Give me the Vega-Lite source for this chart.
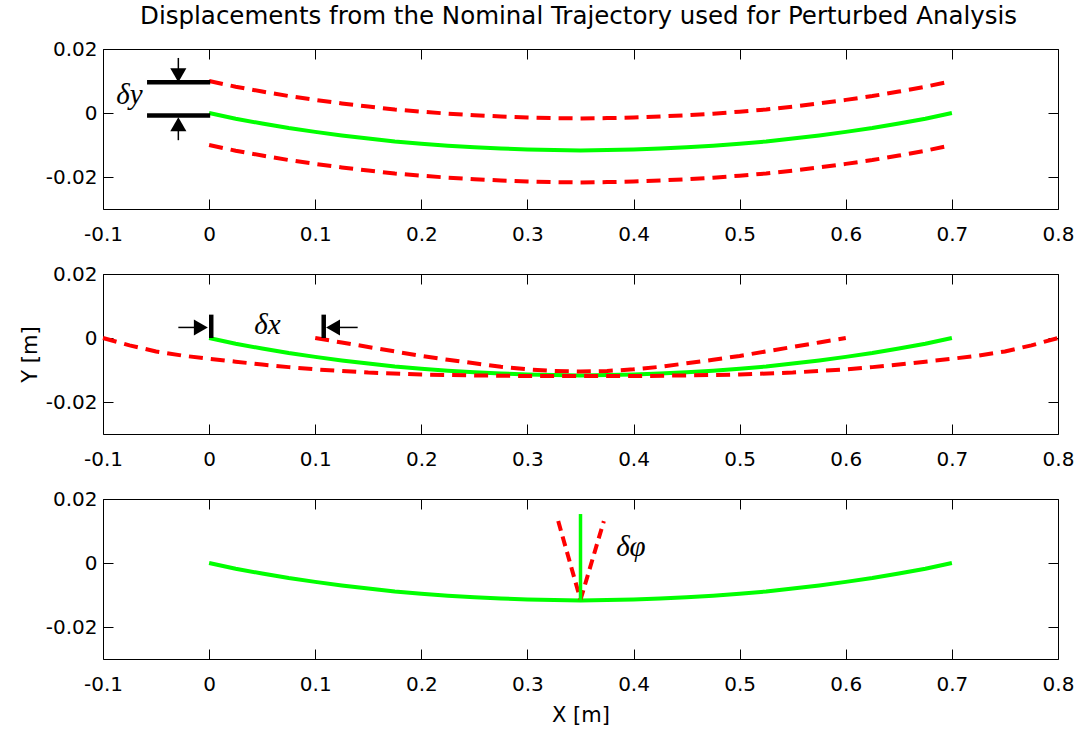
{
  "$schema": "https://vega.github.io/schema/vega-lite/v6.json",
  "padding": {"left": 18, "top": 4, "right": 5, "bottom": 5},
  "background": "white",
  "title": {"text": "Displacements from the Nominal Trajectory used for Perturbed Analysis", "font": "DejaVu Sans", "fontSize": 24.5, "fontWeight": "normal", "color": "#000", "anchor": "middle", "offset": 9, "dx": 32},
  "spacing": 65,
  "bounds": "flush",
  "datasets": {
    "nominal": [
      {"x": 0, "y": 0}, {"x": 0.025, "y": -0.0018}, {"x": 0.05, "y": -0.0033}, {"x": 0.075, "y": -0.0047}, {"x": 0.1, "y": -0.0059},
      {"x": 0.125, "y": -0.007}, {"x": 0.15, "y": -0.008}, {"x": 0.175, "y": -0.0089}, {"x": 0.2, "y": -0.0096}, {"x": 0.225, "y": -0.0102},
      {"x": 0.25, "y": -0.0107}, {"x": 0.275, "y": -0.0111}, {"x": 0.3, "y": -0.0114}, {"x": 0.325, "y": -0.0116}, {"x": 0.35, "y": -0.0117},
      {"x": 0.375, "y": -0.0116}, {"x": 0.4, "y": -0.0114}, {"x": 0.425, "y": -0.0111}, {"x": 0.45, "y": -0.0107}, {"x": 0.475, "y": -0.0102},
      {"x": 0.5, "y": -0.0096}, {"x": 0.525, "y": -0.0089}, {"x": 0.55, "y": -0.008}, {"x": 0.575, "y": -0.007}, {"x": 0.6, "y": -0.0059},
      {"x": 0.625, "y": -0.0047}, {"x": 0.65, "y": -0.0033}, {"x": 0.675, "y": -0.0018}, {"x": 0.7, "y": 0}
    ],
    "p1red": [
      {"series": "upper", "x": 0, "y": 0.01}, {"series": "upper", "x": 0.025, "y": 0.0082}, {"series": "upper", "x": 0.05, "y": 0.0067}, {"series": "upper", "x": 0.075, "y": 0.0053}, {"series": "upper", "x": 0.1, "y": 0.0041},
      {"series": "upper", "x": 0.125, "y": 0.003}, {"series": "upper", "x": 0.15, "y": 0.002}, {"series": "upper", "x": 0.175, "y": 0.0011}, {"series": "upper", "x": 0.2, "y": 0.0004}, {"series": "upper", "x": 0.225, "y": -0.0002},
      {"series": "upper", "x": 0.25, "y": -0.0007}, {"series": "upper", "x": 0.275, "y": -0.0011}, {"series": "upper", "x": 0.3, "y": -0.0014}, {"series": "upper", "x": 0.325, "y": -0.0016}, {"series": "upper", "x": 0.35, "y": -0.0017},
      {"series": "upper", "x": 0.375, "y": -0.0016}, {"series": "upper", "x": 0.4, "y": -0.0014}, {"series": "upper", "x": 0.425, "y": -0.0011}, {"series": "upper", "x": 0.45, "y": -0.0007}, {"series": "upper", "x": 0.475, "y": -0.0002},
      {"series": "upper", "x": 0.5, "y": 0.0004}, {"series": "upper", "x": 0.525, "y": 0.0011}, {"series": "upper", "x": 0.55, "y": 0.002}, {"series": "upper", "x": 0.575, "y": 0.003}, {"series": "upper", "x": 0.6, "y": 0.0041},
      {"series": "upper", "x": 0.625, "y": 0.0053}, {"series": "upper", "x": 0.65, "y": 0.0067}, {"series": "upper", "x": 0.675, "y": 0.0082}, {"series": "upper", "x": 0.7, "y": 0.01},
      {"series": "lower", "x": 0, "y": -0.01}, {"series": "lower", "x": 0.025, "y": -0.0118}, {"series": "lower", "x": 0.05, "y": -0.0133}, {"series": "lower", "x": 0.075, "y": -0.0147}, {"series": "lower", "x": 0.1, "y": -0.0159},
      {"series": "lower", "x": 0.125, "y": -0.017}, {"series": "lower", "x": 0.15, "y": -0.018}, {"series": "lower", "x": 0.175, "y": -0.0189}, {"series": "lower", "x": 0.2, "y": -0.0196}, {"series": "lower", "x": 0.225, "y": -0.0202},
      {"series": "lower", "x": 0.25, "y": -0.0207}, {"series": "lower", "x": 0.275, "y": -0.0211}, {"series": "lower", "x": 0.3, "y": -0.0214}, {"series": "lower", "x": 0.325, "y": -0.0216}, {"series": "lower", "x": 0.35, "y": -0.0217},
      {"series": "lower", "x": 0.375, "y": -0.0216}, {"series": "lower", "x": 0.4, "y": -0.0214}, {"series": "lower", "x": 0.425, "y": -0.0211}, {"series": "lower", "x": 0.45, "y": -0.0207}, {"series": "lower", "x": 0.475, "y": -0.0202},
      {"series": "lower", "x": 0.5, "y": -0.0196}, {"series": "lower", "x": 0.525, "y": -0.0189}, {"series": "lower", "x": 0.55, "y": -0.018}, {"series": "lower", "x": 0.575, "y": -0.017}, {"series": "lower", "x": 0.6, "y": -0.0159},
      {"series": "lower", "x": 0.625, "y": -0.0147}, {"series": "lower", "x": 0.65, "y": -0.0133}, {"series": "lower", "x": 0.675, "y": -0.0118}, {"series": "lower", "x": 0.7, "y": -0.01}
    ],
    "p2red": [
      {"series": "long", "x": -0.1, "y": 0}, {"series": "long", "x": -0.075, "y": -0.0023}, {"series": "long", "x": -0.05, "y": -0.0042}, {"series": "long", "x": -0.025, "y": -0.0055},
      {"series": "long", "x": 0, "y": -0.0065}, {"series": "long", "x": 0.025, "y": -0.0074}, {"series": "long", "x": 0.05, "y": -0.0083}, {"series": "long", "x": 0.075, "y": -0.0091},
      {"series": "long", "x": 0.1, "y": -0.0098}, {"series": "long", "x": 0.15, "y": -0.0108}, {"series": "long", "x": 0.2, "y": -0.0114}, {"series": "long", "x": 0.25, "y": -0.0117},
      {"series": "long", "x": 0.3, "y": -0.0119}, {"series": "long", "x": 0.35, "y": -0.0119}, {"series": "long", "x": 0.4, "y": -0.0119}, {"series": "long", "x": 0.45, "y": -0.0117},
      {"series": "long", "x": 0.5, "y": -0.0114}, {"series": "long", "x": 0.55, "y": -0.0108}, {"series": "long", "x": 0.6, "y": -0.0098}, {"series": "long", "x": 0.625, "y": -0.0091},
      {"series": "long", "x": 0.65, "y": -0.0083}, {"series": "long", "x": 0.675, "y": -0.0074}, {"series": "long", "x": 0.7, "y": -0.0065}, {"series": "long", "x": 0.725, "y": -0.0055},
      {"series": "long", "x": 0.75, "y": -0.0042}, {"series": "long", "x": 0.775, "y": -0.0023}, {"series": "long", "x": 0.8, "y": 0},
      {"series": "short", "x": 0.1, "y": 0}, {"series": "short", "x": 0.125, "y": -0.0014}, {"series": "short", "x": 0.15, "y": -0.0028}, {"series": "short", "x": 0.175, "y": -0.0042},
      {"series": "short", "x": 0.2, "y": -0.0056}, {"series": "short", "x": 0.225, "y": -0.0068}, {"series": "short", "x": 0.25, "y": -0.0079}, {"series": "short", "x": 0.275, "y": -0.009},
      {"series": "short", "x": 0.3, "y": -0.0098}, {"series": "short", "x": 0.325, "y": -0.0103}, {"series": "short", "x": 0.35, "y": -0.0105}, {"series": "short", "x": 0.375, "y": -0.0103},
      {"series": "short", "x": 0.4, "y": -0.0098}, {"series": "short", "x": 0.425, "y": -0.009}, {"series": "short", "x": 0.45, "y": -0.0079}, {"series": "short", "x": 0.475, "y": -0.0068},
      {"series": "short", "x": 0.5, "y": -0.0056}, {"series": "short", "x": 0.525, "y": -0.0042}, {"series": "short", "x": 0.55, "y": -0.0028}, {"series": "short", "x": 0.575, "y": -0.0014},
      {"series": "short", "x": 0.6, "y": 0}
    ],
    "p3red": [
      {"series": "left", "x": 0.329, "y": 0.0131}, {"series": "left", "x": 0.35, "y": -0.0115},
      {"series": "right", "x": 0.35, "y": -0.0115}, {"series": "right", "x": 0.372, "y": 0.0131}
    ],
    "p3vert": [{"x": 0.35, "y": -0.0117, "y2": 0.0153}],
    "p1bars": [{"x": -0.0585, "x2": 0.001, "y": 0.0096}, {"x": -0.0585, "x2": 0.001, "y": -0.0008}],
    "p1shafts": [{"x": -0.029, "y": 0.0172, "y2": 0.013}, {"x": -0.029, "y": -0.0048, "y2": -0.0085}],
    "p1heads": [{"x": -0.029, "y": 0.0118, "shape": "triangle-down"}, {"x": -0.029, "y": -0.0035, "shape": "triangle-up"}],
    "p2bars": [{"x": 0.002, "y": 0, "y2": 0.0073}, {"x": 0.108, "y": 0, "y2": 0.0073}],
    "p2shafts": [{"x": -0.029, "x2": -0.012, "y": 0.0033}, {"x": 0.121, "x2": 0.14, "y": 0.0033}],
    "p2heads": [{"x": -0.0078, "y": 0.0033, "shape": "triangle-right"}, {"x": 0.1168, "y": 0.0033, "shape": "triangle-left"}],
    "p1text": [{"x": -0.075, "y": 0.0028, "label": "δy"}],
    "p2text": [{"x": 0.055, "y": 0.0014, "label": "δx"}],
    "p3text": [{"x": 0.3975, "y": 0.0022, "label": "δφ"}]
  },
  "vconcat": [
    {
      "width": 955, "height": 160,
      "resolve": {"axis": {"x": "independent", "y": "independent"}},
      "layer": [
        {"data": {"name": "nominal"}, "mark": {"type": "line", "color": "#00ff00", "strokeWidth": 4},
         "encoding": {
           "x": {"field": "x", "type": "quantitative", "scale": {"domain": [-0.1, 0.8], "nice": false}, "axis": {"orient": "bottom", "values": [-0.1, 0, 0.1, 0.2, 0.3, 0.4, 0.5, 0.6, 0.7, 0.8], "labelExpr": "toString(datum.value)", "title": null, "labelPadding": 25, "labelFlush": false, "labelOverlap": false}},
           "y": {"field": "y", "type": "quantitative", "scale": {"domain": [-0.03, 0.02], "nice": false}, "axis": {"orient": "left", "values": [-0.02, 0, 0.02], "labelExpr": "toString(datum.value)", "title": null, "labelPadding": 16, "labelFlush": false}}}},
        {"data": {"name": "p1red"}, "mark": {"type": "line", "color": "#ff0000", "strokeWidth": 4, "strokeDash": [14, 8]},
         "encoding": {
           "x": {"field": "x", "type": "quantitative", "scale": {"domain": [-0.1, 0.8], "nice": false}, "axis": null},
           "y": {"field": "y", "type": "quantitative", "scale": {"domain": [-0.03, 0.02], "nice": false}, "axis": null},
           "detail": {"field": "series"}}},
        {"data": {"name": "p1bars"}, "mark": {"type": "rule", "color": "#000", "strokeWidth": 4.5},
         "encoding": {
           "x": {"field": "x", "type": "quantitative", "scale": {"domain": [-0.1, 0.8], "nice": false}, "axis": null}, "x2": {"field": "x2"},
           "y": {"field": "y", "type": "quantitative", "scale": {"domain": [-0.03, 0.02], "nice": false}, "axis": null}}},
        {"data": {"name": "p1shafts"}, "mark": {"type": "rule", "color": "#000", "strokeWidth": 1.5},
         "encoding": {
           "x": {"field": "x", "type": "quantitative", "scale": {"domain": [-0.1, 0.8], "nice": false}, "axis": null},
           "y": {"field": "y", "type": "quantitative", "scale": {"domain": [-0.03, 0.02], "nice": false}, "axis": null}, "y2": {"field": "y2"}}},
        {"data": {"name": "p1heads"}, "mark": {"type": "point", "filled": true, "color": "#000", "opacity": 1, "size": 260},
         "encoding": {
           "x": {"field": "x", "type": "quantitative", "scale": {"domain": [-0.1, 0.8], "nice": false}, "axis": null},
           "y": {"field": "y", "type": "quantitative", "scale": {"domain": [-0.03, 0.02], "nice": false}, "axis": null},
           "shape": {"field": "shape", "type": "nominal", "scale": null}}},
        {"data": {"name": "p1text"}, "mark": {"type": "text", "font": "Liberation Serif", "fontStyle": "italic", "fontSize": 29, "color": "#000", "align": "center", "baseline": "alphabetic"},
         "encoding": {
           "x": {"field": "x", "type": "quantitative", "scale": {"domain": [-0.1, 0.8], "nice": false}, "axis": null},
           "y": {"field": "y", "type": "quantitative", "scale": {"domain": [-0.03, 0.02], "nice": false}, "axis": null},
           "text": {"field": "label"}}},
        {"data": {"name": "nominal"}, "mark": {"type": "line", "opacity": 0},
         "encoding": {
           "x": {"field": "x", "type": "quantitative", "scale": {"domain": [-0.1, 0.8], "nice": false}, "axis": {"orient": "top", "values": [-0.1, 0, 0.1, 0.2, 0.3, 0.4, 0.5, 0.6, 0.7, 0.8], "labels": false, "title": null}},
           "y": {"field": "y", "type": "quantitative", "scale": {"domain": [-0.03, 0.02], "nice": false}, "axis": {"orient": "right", "values": [-0.02, 0, 0.02], "labels": false, "title": null}}}}
      ]
    },
    {
      "width": 955, "height": 160,
      "resolve": {"axis": {"x": "independent", "y": "independent"}},
      "layer": [
        {"data": {"name": "nominal"}, "mark": {"type": "line", "color": "#00ff00", "strokeWidth": 4},
         "encoding": {
           "x": {"field": "x", "type": "quantitative", "scale": {"domain": [-0.1, 0.8], "nice": false}, "axis": {"orient": "bottom", "values": [-0.1, 0, 0.1, 0.2, 0.3, 0.4, 0.5, 0.6, 0.7, 0.8], "labelExpr": "toString(datum.value)", "title": null, "labelPadding": 25, "labelFlush": false, "labelOverlap": false}},
           "y": {"field": "y", "type": "quantitative", "scale": {"domain": [-0.03, 0.02], "nice": false}, "axis": {"orient": "left", "values": [-0.02, 0, 0.02], "labelExpr": "toString(datum.value)", "title": "Y [m]", "titlePadding": 5, "labelPadding": 16, "labelFlush": false}}}},
        {"data": {"name": "p2red"}, "mark": {"type": "line", "color": "#ff0000", "strokeWidth": 4, "strokeDash": [14, 8]},
         "encoding": {
           "x": {"field": "x", "type": "quantitative", "scale": {"domain": [-0.1, 0.8], "nice": false}, "axis": null},
           "y": {"field": "y", "type": "quantitative", "scale": {"domain": [-0.03, 0.02], "nice": false}, "axis": null},
           "detail": {"field": "series"}}},
        {"data": {"name": "p2bars"}, "mark": {"type": "rule", "color": "#000", "strokeWidth": 4.5},
         "encoding": {
           "x": {"field": "x", "type": "quantitative", "scale": {"domain": [-0.1, 0.8], "nice": false}, "axis": null},
           "y": {"field": "y", "type": "quantitative", "scale": {"domain": [-0.03, 0.02], "nice": false}, "axis": null}, "y2": {"field": "y2"}}},
        {"data": {"name": "p2shafts"}, "mark": {"type": "rule", "color": "#000", "strokeWidth": 1.5},
         "encoding": {
           "x": {"field": "x", "type": "quantitative", "scale": {"domain": [-0.1, 0.8], "nice": false}, "axis": null}, "x2": {"field": "x2"},
           "y": {"field": "y", "type": "quantitative", "scale": {"domain": [-0.03, 0.02], "nice": false}, "axis": null}}},
        {"data": {"name": "p2heads"}, "mark": {"type": "point", "filled": true, "color": "#000", "opacity": 1, "size": 260},
         "encoding": {
           "x": {"field": "x", "type": "quantitative", "scale": {"domain": [-0.1, 0.8], "nice": false}, "axis": null},
           "y": {"field": "y", "type": "quantitative", "scale": {"domain": [-0.03, 0.02], "nice": false}, "axis": null},
           "shape": {"field": "shape", "type": "nominal", "scale": null}}},
        {"data": {"name": "p2text"}, "mark": {"type": "text", "font": "Liberation Serif", "fontStyle": "italic", "fontSize": 29, "color": "#000", "align": "center", "baseline": "alphabetic"},
         "encoding": {
           "x": {"field": "x", "type": "quantitative", "scale": {"domain": [-0.1, 0.8], "nice": false}, "axis": null},
           "y": {"field": "y", "type": "quantitative", "scale": {"domain": [-0.03, 0.02], "nice": false}, "axis": null},
           "text": {"field": "label"}}},
        {"data": {"name": "nominal"}, "mark": {"type": "line", "opacity": 0},
         "encoding": {
           "x": {"field": "x", "type": "quantitative", "scale": {"domain": [-0.1, 0.8], "nice": false}, "axis": {"orient": "top", "values": [-0.1, 0, 0.1, 0.2, 0.3, 0.4, 0.5, 0.6, 0.7, 0.8], "labels": false, "title": null}},
           "y": {"field": "y", "type": "quantitative", "scale": {"domain": [-0.03, 0.02], "nice": false}, "axis": {"orient": "right", "values": [-0.02, 0, 0.02], "labels": false, "title": null}}}}
      ]
    },
    {
      "width": 955, "height": 160,
      "resolve": {"axis": {"x": "independent", "y": "independent"}},
      "layer": [
        {"data": {"name": "nominal"}, "mark": {"type": "line", "color": "#00ff00", "strokeWidth": 4},
         "encoding": {
           "x": {"field": "x", "type": "quantitative", "scale": {"domain": [-0.1, 0.8], "nice": false}, "axis": {"orient": "bottom", "values": [-0.1, 0, 0.1, 0.2, 0.3, 0.4, 0.5, 0.6, 0.7, 0.8], "labelExpr": "toString(datum.value)", "title": "X [m]", "titlePadding": 10, "labelPadding": 25, "labelFlush": false, "labelOverlap": false}},
           "y": {"field": "y", "type": "quantitative", "scale": {"domain": [-0.03, 0.02], "nice": false}, "axis": {"orient": "left", "values": [-0.02, 0, 0.02], "labelExpr": "toString(datum.value)", "title": null, "labelPadding": 16, "labelFlush": false}}}},
        {"data": {"name": "p3red"}, "mark": {"type": "line", "color": "#ff0000", "strokeWidth": 4, "strokeDash": [10, 6]},
         "encoding": {
           "x": {"field": "x", "type": "quantitative", "scale": {"domain": [-0.1, 0.8], "nice": false}, "axis": null},
           "y": {"field": "y", "type": "quantitative", "scale": {"domain": [-0.03, 0.02], "nice": false}, "axis": null},
           "detail": {"field": "series"}}},
        {"data": {"name": "p3vert"}, "mark": {"type": "rule", "color": "#00ff00", "strokeWidth": 3.5},
         "encoding": {
           "x": {"field": "x", "type": "quantitative", "scale": {"domain": [-0.1, 0.8], "nice": false}, "axis": null},
           "y": {"field": "y", "type": "quantitative", "scale": {"domain": [-0.03, 0.02], "nice": false}, "axis": null}, "y2": {"field": "y2"}}},
        {"data": {"name": "p3text"}, "mark": {"type": "text", "font": "Liberation Serif", "fontStyle": "italic", "fontSize": 29, "color": "#000", "align": "center", "baseline": "alphabetic"},
         "encoding": {
           "x": {"field": "x", "type": "quantitative", "scale": {"domain": [-0.1, 0.8], "nice": false}, "axis": null},
           "y": {"field": "y", "type": "quantitative", "scale": {"domain": [-0.03, 0.02], "nice": false}, "axis": null},
           "text": {"field": "label"}}},
        {"data": {"name": "nominal"}, "mark": {"type": "line", "opacity": 0},
         "encoding": {
           "x": {"field": "x", "type": "quantitative", "scale": {"domain": [-0.1, 0.8], "nice": false}, "axis": {"orient": "top", "values": [-0.1, 0, 0.1, 0.2, 0.3, 0.4, 0.5, 0.6, 0.7, 0.8], "labels": false, "title": null}},
           "y": {"field": "y", "type": "quantitative", "scale": {"domain": [-0.03, 0.02], "nice": false}, "axis": {"orient": "right", "values": [-0.02, 0, 0.02], "labels": false, "title": null}}}}
      ]
    }
  ],
  "config": {
    "view": {"stroke": "#000", "strokeWidth": 1},
    "axis": {"domain": false, "grid": false, "tickSize": -10, "tickColor": "#000", "tickWidth": 1, "labelFont": "DejaVu Sans", "labelFontSize": 20, "labelColor": "#000", "titleFont": "DejaVu Sans", "titleFontSize": 21, "titleFontWeight": "normal", "titleColor": "#000"}
  }
}
